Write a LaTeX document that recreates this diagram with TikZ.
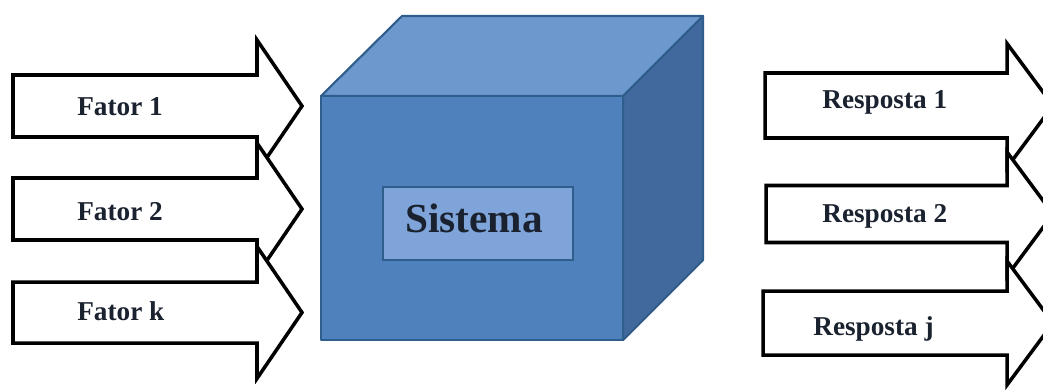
\documentclass[tikz,border=0pt]{standalone}
\usepackage{fontspec}
\setmainfont{Liberation Serif}
\definecolor{cubefront}{HTML}{4F81BD}
\definecolor{cubetop}{HTML}{6D98CE}
\definecolor{cubeside}{HTML}{41699E}
\definecolor{cubeline}{HTML}{2F5D8C}
\definecolor{innerfill}{HTML}{7EA4D9}
\definecolor{txt}{HTML}{1A2230}
\newcommand\myarrow[6]{%
  \draw[blockarrow] ({#1},{#4-#5}) -- ({#2},{#4-#5}) -- ({#2},{#4-#6}) -- ({#3},{#4})
    -- ({#2},{#4+#6}) -- ({#2},{#4+#5}) -- ({#1},{#4+#5}) -- cycle;}
\begin{document}
\begin{tikzpicture}[x=0.02cm,y=-0.02cm,
  blockarrow/.style={draw=black, fill=white, line width=2pt, line join=miter},
  face/.style={draw=cubeline, line width=1.2pt, line join=round},
  lbl/.style={font=\fontsize{15.5}{18}\selectfont\bfseries, text=txt, inner sep=0pt, anchor=base west},
  sysbox/.style={draw=cubeline, line width=1.2pt, fill=innerfill, minimum width=3.8cm, minimum height=1.46cm, inner sep=0pt},
  systxt/.style={font=\fontsize{23.5}{28}\selectfont\bfseries, text=txt, inner sep=0pt, anchor=base}]
\useasboundingbox (0,0) rectangle (1043,389);
\clip (0,0) rectangle (1043,389);
\fill[white] (0,0) rectangle (1043,389);
% left arrows
\myarrow{13}{257}{302}{106}{31}{66}
\myarrow{13}{257}{302}{209}{31}{66}
\myarrow{13}{257}{302}{312.5}{30.5}{66}
\node[lbl] (f1) at (77,115) {Fator 1};
\node[lbl] (f2) at (77,220) {Fator 2};
\node[lbl] (fk) at (77,320) {Fator k};
% cube
\filldraw[face, fill=cubetop] (321,96) -- (402,16) -- (703,16) -- (623,96) -- cycle;
\filldraw[face, fill=cubeside] (623,96) -- (703,16) -- (703,260) -- (623,340) -- cycle;
\filldraw[face, fill=cubefront] (321,96) rectangle (623,340);
\node[sysbox] (sys) at (478,223.5) {};
\node[systxt] (systext) at (474,232) {Sistema};
% right arrows
\myarrow{765}{1007}{1053}{105.5}{32.5}{62}
\myarrow{766}{1007}{1053}{214}{28.5}{62}
\myarrow{763}{1007}{1053}{323}{32}{62}
\node[lbl] (r1) at (822,108) {Resposta 1};
\node[lbl] (r2) at (822,222) {Resposta 2};
\node[lbl] (rj) at (813,335) {Resposta j};
\end{tikzpicture}
\end{document}
